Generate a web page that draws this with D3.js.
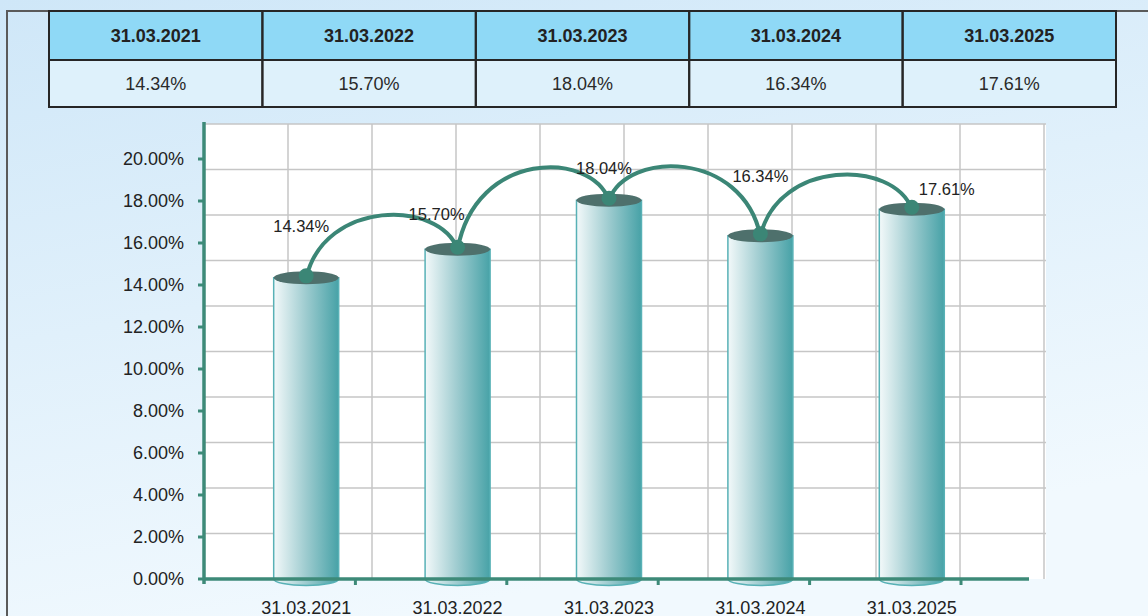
<!DOCTYPE html>
<html>
<head>
<meta charset="utf-8">
<script src="https://cdn.jsdelivr.net/npm/d3@7"></script>
<style>
  body { margin: 0; background: #e2f2fc; }
  svg { display: block; font-family: "Liberation Sans", Arial, sans-serif; }
</style>
</head>
<body>
<svg id="chart" width="1148" height="616"></svg>
<script>
// data
var dates = ['31.03.2021', '31.03.2022', '31.03.2023', '31.03.2024', '31.03.2025'];
var ratios = [14.34, 15.70, 18.04, 16.34, 17.61];
var ratioLabels = ['14.34%', '15.70%', '18.04%', '16.34%', '17.61%'];
var yTicks = [0, 2, 4, 6, 8, 10, 12, 14, 16, 18, 20];

// where each value label sits relative to its bar top (layout only)
var labelNudge = [[-5, -46], [-21, -29], [-5, -26], [0, -54], [35, -14]];

var width = 1148, height = 616;
var svg = d3.select('#chart');
var defs = svg.append('defs');

var bg = defs.append('linearGradient').attr('id', 'bg')
  .attr('x1', 0).attr('y1', 0).attr('x2', 0.35).attr('y2', 1);
bg.append('stop').attr('offset', '0%').attr('stop-color', '#cfe7f8');
bg.append('stop').attr('offset', '100%').attr('stop-color', '#f1f9fe');

var cyl = defs.append('linearGradient').attr('id', 'cyl')
  .attr('x1', 0).attr('y1', 0).attr('x2', 1).attr('y2', 0);
cyl.append('stop').attr('offset', '0%').attr('stop-color', '#f3f9fa');
cyl.append('stop').attr('offset', '50%').attr('stop-color', '#9dcbcf');
cyl.append('stop').attr('offset', '100%').attr('stop-color', '#47a2a7');

svg.append('rect').attr('width', width).attr('height', height).attr('fill', 'url(#bg)');

// frame lines
svg.append('path')
  .attr('d', 'M7,616 V11 H1148')
  .attr('fill', 'none').attr('stroke', '#5a5a5a').attr('stroke-width', 2);

// table
var table = { left: 49, right: 1116, top: 11, mid: 60, bottom: 107 };
var colScale = d3.scaleBand().domain(dates).range([table.left, table.right]);
var tg = svg.append('g');
tg.append('rect')
  .attr('x', table.left).attr('y', table.top)
  .attr('width', table.right - table.left).attr('height', table.mid - table.top)
  .attr('fill', '#8fd9f6');
tg.append('rect')
  .attr('x', table.left).attr('y', table.mid)
  .attr('width', table.right - table.left).attr('height', table.bottom - table.mid)
  .attr('fill', '#def1fb');
tg.selectAll('.col')
  .data(dates)
  .enter().append('rect')
  .attr('class', 'col')
  .attr('x', function(d) { return colScale(d); })
  .attr('y', table.top)
  .attr('width', colScale.bandwidth())
  .attr('height', table.bottom - table.top)
  .attr('fill', 'none').attr('stroke', '#262626').attr('stroke-width', 2);
tg.append('line')
  .attr('x1', table.left).attr('x2', table.right)
  .attr('y1', table.mid).attr('y2', table.mid)
  .attr('stroke', '#262626').attr('stroke-width', 2);
tg.selectAll('.head')
  .data(dates)
  .enter().append('text')
  .attr('class', 'head')
  .attr('x', function(d) { return colScale(d) + colScale.bandwidth() / 2; })
  .attr('y', 42)
  .attr('text-anchor', 'middle')
  .attr('font-size', 18).attr('font-weight', 'bold').attr('fill', '#222')
  .text(function(d) { return d; });
tg.selectAll('.val')
  .data(ratioLabels)
  .enter().append('text')
  .attr('class', 'val')
  .attr('x', function(d, i) { return colScale(dates[i]) + colScale.bandwidth() / 2; })
  .attr('y', 90)
  .attr('text-anchor', 'middle')
  .attr('font-size', 18).attr('fill', '#2a2a2a')
  .text(function(d) { return d; });

// chart area
var plot = { left: 204, right: 1046, top: 124, bottom: 579 };
var y = d3.scaleLinear().domain([0, 20]).range([plot.bottom, 159]);
var x = d3.scaleBand().domain(dates).range([plot.left, 961]);
var barW = 65, ry = 6.5;
function cx(d) { return x(d) + x.bandwidth() * 0.675; }

svg.append('rect')
  .attr('x', plot.left).attr('y', plot.top)
  .attr('width', plot.right - plot.left).attr('height', plot.bottom - plot.top)
  .attr('fill', '#fff');

// decorative grid
var gx = d3.scaleLinear().domain([0, 10]).range([plot.left, 1044]);
var gy = d3.scaleLinear().domain([0, 10]).range([plot.bottom, plot.top]);
var grid = svg.append('g').attr('stroke', '#c6c6c6').attr('stroke-width', 1.5);
grid.selectAll('.vg')
  .data(d3.range(1, 11))
  .enter().append('line')
  .attr('x1', function(d) { return gx(d); }).attr('x2', function(d) { return gx(d); })
  .attr('y1', plot.top).attr('y2', plot.bottom);
grid.selectAll('.hg')
  .data(d3.range(1, 11))
  .enter().append('line')
  .attr('y1', function(d) { return gy(d); }).attr('y2', function(d) { return gy(d); })
  .attr('x1', plot.left).attr('x2', plot.right);

// cylinders
var bars = svg.selectAll('.cyl')
  .data(ratios)
  .enter().append('g')
  .attr('class', 'cyl');
bars.append('path')
  .attr('d', function(d, i) {
    var l = cx(dates[i]) - barW / 2, r = l + barW, t = y(d), b = y(0);
    return 'M' + l + ',' + t + ' V' + b +
      ' A' + barW / 2 + ',' + ry + ' 0 0 0 ' + r + ',' + b +
      ' V' + t + ' Z';
  })
  .attr('fill', 'url(#cyl)')
  .attr('stroke', '#58b1b6').attr('stroke-width', 1.5);
bars.append('ellipse')
  .attr('cx', function(d, i) { return cx(dates[i]); })
  .attr('cy', function(d) { return y(d); })
  .attr('rx', barW / 2).attr('ry', ry)
  .attr('fill', '#4e706c');

// axes
var axisColor = '#3d8a78';
var yAxis = svg.append('g');
yAxis.append('line')
  .attr('x1', plot.left).attr('x2', plot.left)
  .attr('y1', 122).attr('y2', plot.bottom + 5)
  .attr('stroke', axisColor).attr('stroke-width', 3.5);
yAxis.selectAll('.yt')
  .data(yTicks)
  .enter().append('line')
  .attr('x1', plot.left - 6).attr('x2', plot.left)
  .attr('y1', function(d) { return y(d); }).attr('y2', function(d) { return y(d); })
  .attr('stroke', axisColor).attr('stroke-width', 3);
yAxis.selectAll('.yl')
  .data(yTicks)
  .enter().append('text')
  .attr('x', 184)
  .attr('y', function(d) { return y(d); })
  .attr('dy', '0.36em')
  .attr('text-anchor', 'end')
  .attr('font-size', 18).attr('fill', '#222')
  .text(function(d) { return d3.format('.2f')(d) + '%'; });

var xAxis = svg.append('g');
xAxis.append('line')
  .attr('x1', plot.left).attr('x2', 1029)
  .attr('y1', plot.bottom).attr('y2', plot.bottom)
  .attr('stroke', axisColor).attr('stroke-width', 3.5);
xAxis.selectAll('.xt')
  .data(dates.slice(1).map(function(d) { return x(d); }).concat([x.range()[1]]))
  .enter().append('line')
  .attr('x1', function(d) { return d; }).attr('x2', function(d) { return d; })
  .attr('y1', plot.bottom).attr('y2', plot.bottom + 6)
  .attr('stroke', axisColor).attr('stroke-width', 3);
xAxis.selectAll('.xl')
  .data(dates)
  .enter().append('text')
  .attr('x', function(d) { return cx(d); })
  .attr('y', 614)
  .attr('text-anchor', 'middle')
  .attr('font-size', 18).attr('fill', '#222')
  .text(function(d) { return d; });

// connecting arcs and dots
var pts = ratios.map(function(d, i) { return [cx(dates[i]), y(d)]; });
var arcs = d3.pairs(pts);
svg.selectAll('.link')
  .data(arcs)
  .enter().append('path')
  .attr('class', 'link')
  .attr('d', function(p) {
    var a = p[0], b = p[1], dx = b[0] - a[0];
    var yc = Math.min(a[1], b[1]) - 50;
    return 'M' + a[0] + ',' + a[1] +
      ' C' + (a[0] + dx * 0.12) + ',' + yc + ' ' + (b[0] - dx * 0.12) + ',' + yc +
      ' ' + b[0] + ',' + b[1];
  })
  .attr('fill', 'none').attr('stroke', '#3b8676').attr('stroke-width', 4);
svg.selectAll('.dot')
  .data(pts)
  .enter().append('circle')
  .attr('cx', function(d) { return d[0]; })
  .attr('cy', function(d) { return d[1] - 2; })
  .attr('r', 7.5)
  .attr('fill', '#3b8676');

svg.selectAll('.lbl')
  .data(ratioLabels)
  .enter().append('text')
  .attr('x', function(d, i) { return pts[i][0] + labelNudge[i][0]; })
  .attr('y', function(d, i) { return pts[i][1] + labelNudge[i][1]; })
  .attr('text-anchor', 'middle')
  .attr('font-size', 16.5).attr('fill', '#222')
  .text(function(d) { return d; });
</script>
</body>
</html>
